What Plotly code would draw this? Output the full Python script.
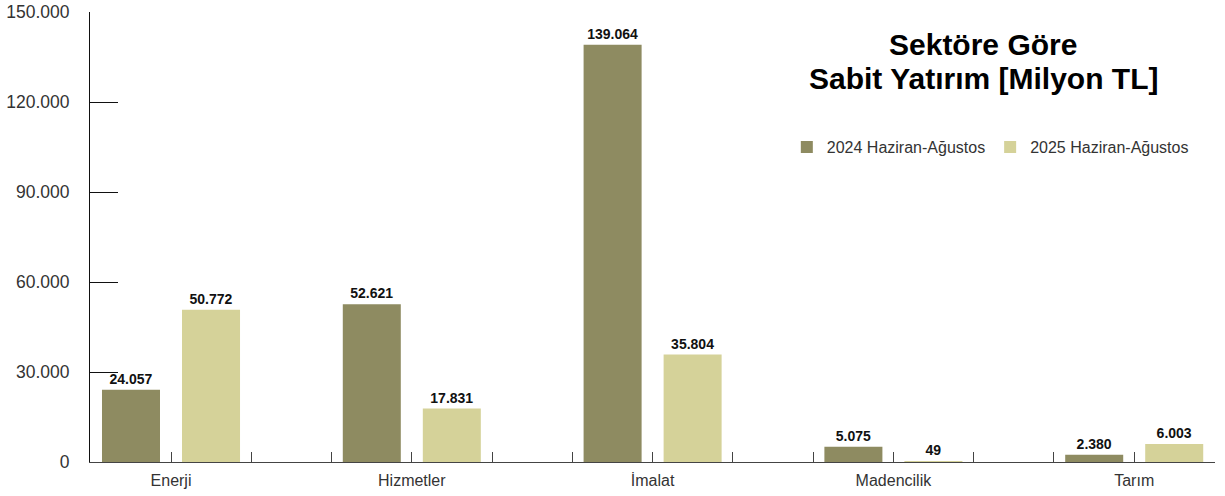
import plotly.graph_objects as go

categories = ["Enerji", "Hizmetler", "İmalat", "Madencilik", "Tarım"]
series_2024 = [24057, 52621, 139064, 5075, 2380]
series_2025 = [50772, 17831, 35804, 49, 6003]
series_names = ["2024 Haziran-Ağustos", "2025 Haziran-Ağustos"]
y_ticks = [0, 30000, 60000, 90000, 120000, 150000]
title_lines = ["Sektöre Göre", "Sabit Yatırım [Milyon TL]"]

DARK = "#8E8B61"
LIGHT = "#D5D299"
FONT = "Liberation Sans, Arial, sans-serif"

xpos = list(range(len(categories)))

fig = go.Figure()
for name, vals, col in [(series_names[0], series_2024, DARK), (series_names[1], series_2025, LIGHT)]:
    fig.add_trace(go.Bar(
        x=xpos, y=vals, name=name, marker=dict(color=col, line=dict(width=0)),
        texttemplate="%{y:,}", textposition="outside", cliponaxis=False,
        textfont=dict(family=FONT, size=14, color="#111111", weight="bold"),
    ))

# tick positions: group centre and two intermediate marks per category
tickvals = [k / 3 for k in range(3 * len(categories) - 1)]
ticktext = [categories[k // 3] if k % 3 == 0 else "" for k in range(len(tickvals))]

fig.update_layout(
    width=1225, height=496,
    margin=dict(l=90, r=10, t=12, b=34),
    paper_bgcolor="white", plot_bgcolor="white",
    barmode="group", bargap=0.3354, bargroupgap=0.275,
    separators=",.",
    font=dict(family=FONT, color="#333333", size=16),
    showlegend=True,
    legend=dict(orientation="h", x=0.6194, y=0.70, xanchor="left", yanchor="middle",
                font=dict(size=16, color="#333333"), bgcolor="rgba(0,0,0,0)",
                traceorder="normal"),
    xaxis=dict(range=[-0.3364, 4.3355], tickmode="array", tickvals=tickvals, ticktext=ticktext,
               ticks="inside", ticklen=10, tickcolor="#444444", tickwidth=1, automargin=False,
               showline=True, linecolor="#444444", linewidth=1, showgrid=False, zeroline=False,
               tickfont=dict(size=16, color="#333333"), ticklabelstandoff=4),
    yaxis=dict(range=[0, 150000], tickmode="array", tickvals=y_ticks, tickformat=",d",
               ticks="inside", ticklen=28, tickcolor="#111111", tickwidth=1, automargin=False,
               showline=True, linecolor="#111111", linewidth=1, showgrid=False, zeroline=False,
               ticklabeloverflow="allow",
               tickfont=dict(size=17.5, color="#333333"), ticklabelstandoff=16),
    annotations=[
        dict(text=f"<b>{line}</b>", xref="paper", yref="paper", x=0.7938, y=yy,
             xanchor="center", yanchor="middle", showarrow=False,
             font=dict(family=FONT, size=30, color="#000000"))
        for line, yy in zip(title_lines, [0.9278, 0.852])
    ],
)

fig.write_html("out.html", config={"displayModeBar": False},
               post_script="document.body.style.margin='0';")
